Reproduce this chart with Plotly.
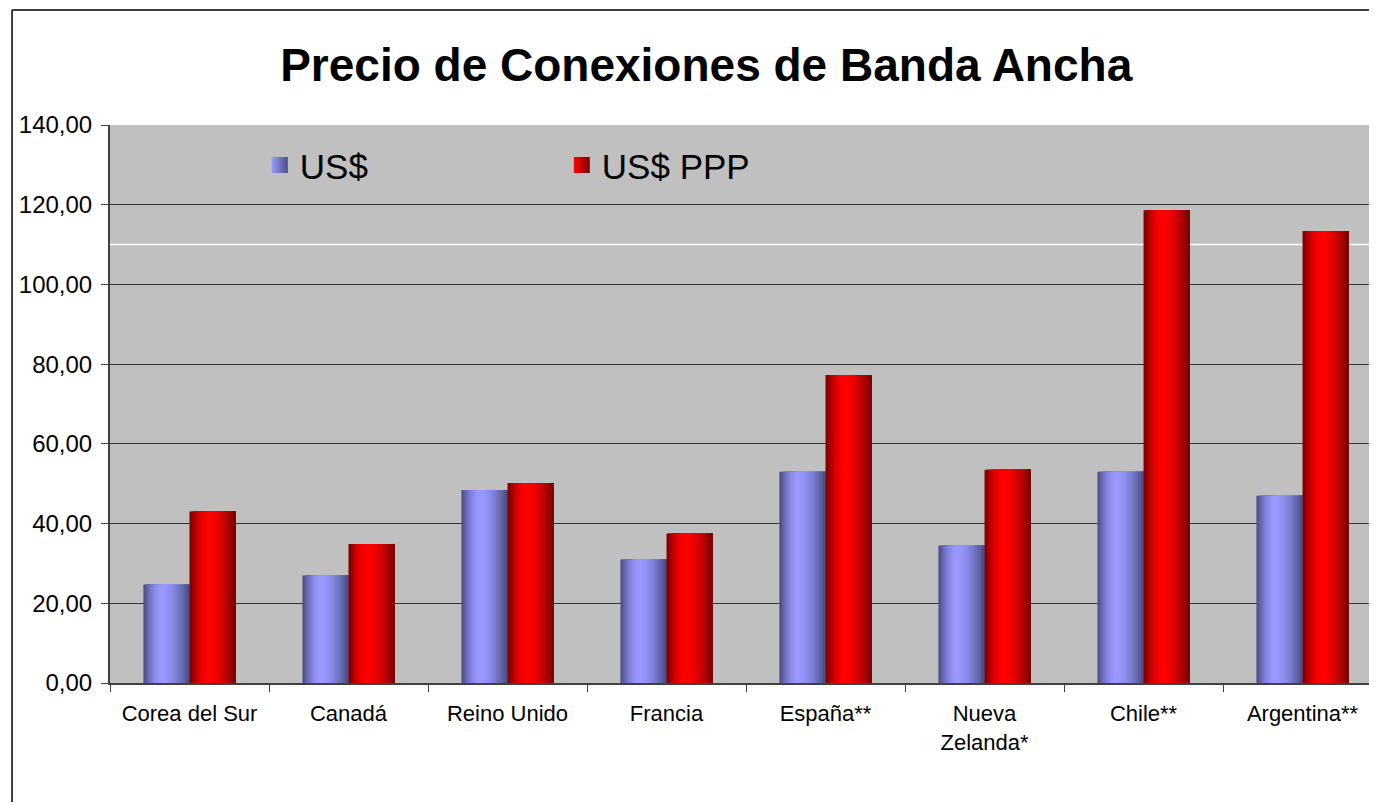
import plotly.graph_objects as go

paises = ["Corea del Sur", "Canadá", "Reino Unido", "Francia", "España**",
          "Nueva<br>Zelanda*", "Chile**", "Argentina**"]
precio_usd = [24.7, 27.0, 48.4, 31.0, 53.0, 34.5, 53.0, 47.0]
precio_ppp = [43.0, 34.9, 50.2, 37.5, 77.3, 53.5, 118.6, 113.4]

N_SLICES = 24
BAR_W = 0.29


def shade(dark, light, t, peak=0.4):
    # cylinder-like shading: dark edges, light band left of centre
    d = (t - peak) / (peak if t < peak else 1 - peak)
    f = max(0.0, 1 - abs(d) ** 1.7)
    return "rgb(%d,%d,%d)" % tuple(round(a + (b - a) * f) for a, b in zip(dark, light))


fig = go.Figure()

series = [
    ("US$", precio_usd, -BAR_W, (70, 74, 125), (153, 153, 255)),
    ("US$ PPP", precio_ppp, 0.0, (115, 0, 0), (255, 0, 0)),
]
step = BAR_W / N_SLICES
for name, vals, start, dark, light in series:
    for i in range(N_SLICES):
        t = (i + 0.5) / N_SLICES
        mid = i == N_SLICES // 2
        fig.add_trace(go.Bar(
            x=paises, y=vals, name=name,
            offset=start + i * step, width=BAR_W - i * step,
            marker=dict(color=shade(dark, light, t), line_width=0),
            showlegend=False,
            hovertemplate="%{x}<br>" + name + ": %{y:.2f}<extra></extra>" if mid else None,
            hoverinfo=None if mid else "skip",
        ))

# legend entries with a gradient swatch
for name, c1, c2 in [("US$", "#9999FF", "#4A4E80"), ("US$ PPP", "#FF0000", "#7A0000")]:
    fig.add_trace(go.Scatter(
        x=[None], y=[None], mode="markers", name=name,
        marker=dict(symbol="square", size=16, color=c1,
                    gradient=dict(type="horizontal", color=c2)),
    ))

fig.update_layout(
    width=1361, height=794,
    margin=dict(l=102, r=0, t=117, b=119),
    paper_bgcolor="white", plot_bgcolor="#C0C0C0",
    barmode="overlay", separators=",.",
    font=dict(family="Arial, Liberation Sans, sans-serif", color="black"),
    title=dict(text="<b>Precio de Conexiones de Banda Ancha</b>",
               x=0.513, xanchor="center", y=0.928, yanchor="middle",
               font=dict(size=46, color="black")),
    legend=dict(orientation="h", x=0.119, y=0.928, xanchor="left", yanchor="middle",
                bgcolor="rgba(0,0,0,0)", font=dict(size=35),
                entrywidth=257, itemsizing="trace"),
    xaxis=dict(range=[-0.5, 7.418], tickson="boundaries", ticks="outside", ticklen=7,
               tickcolor="#404040", showline=True, linecolor="#404040", linewidth=2,
               showgrid=False, tickfont=dict(size=22), ticklabelstandoff=10),
    yaxis=dict(range=[0, 140], dtick=20, tickformat=".2f", showgrid=True,
               gridcolor="#333333", gridwidth=1, showline=True, linecolor="#404040",
               linewidth=2, ticks="outside", ticklen=7, tickcolor="#404040",
               zeroline=False, tickfont=dict(size=24), ticklabelstandoff=4),
    shapes=[
        dict(type="line", xref="paper", yref="y", x0=0, x1=1, y0=110, y1=110,
             line=dict(color="white", width=1.5), layer="below"),
        dict(type="line", xref="paper", yref="paper", x0=-0.0778, x1=1.01,
             y0=1.206, y1=1.206, line=dict(color="black", width=1.5)),
        dict(type="line", xref="paper", yref="paper", x0=-0.0778, x1=-0.0778,
             y0=1.206, y1=-0.3, line=dict(color="black", width=1.5)),
    ],
)

fig.write_html("out.html")
